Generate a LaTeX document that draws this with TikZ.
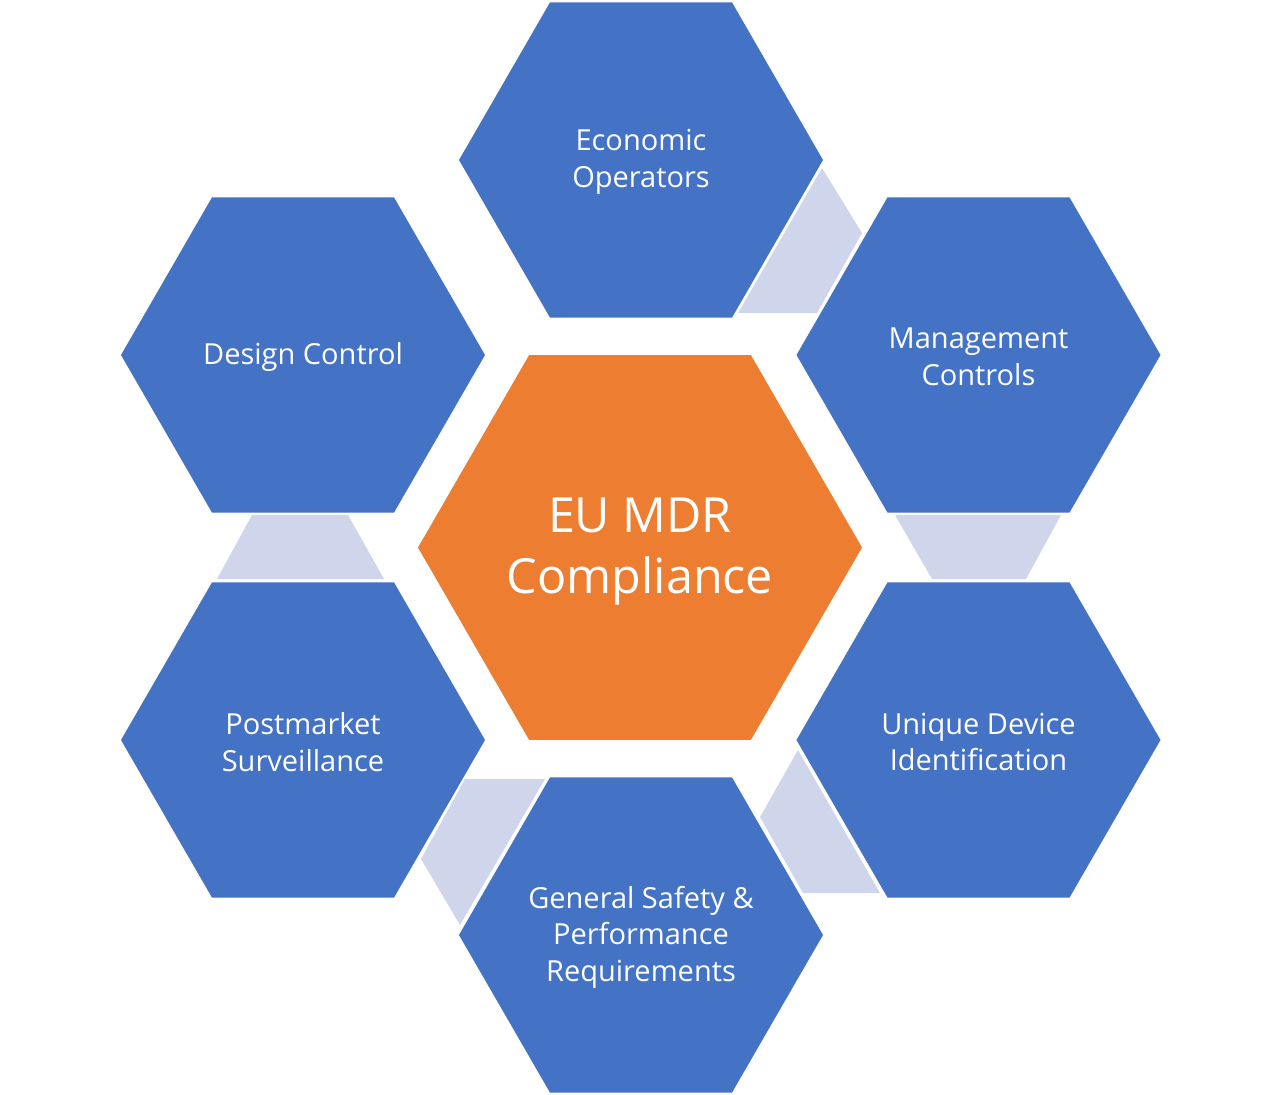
\documentclass[tikz,border=0pt]{standalone}
\usepackage{fontspec}
\setmainfont{Open Sans}
\usetikzlibrary{shapes.geometric}
\definecolor{hexblue}{HTML}{4472C4}
\definecolor{hexorange}{HTML}{ED7D31}
\definecolor{linkgray}{HTML}{CFD5EA}
\tikzset{
  hexb/.style={regular polygon, regular polygon sides=6, minimum size=364pt, inner sep=0pt, outer sep=0pt, fill=hexblue, draw=none},
  hexo/.style={regular polygon, regular polygon sides=6, minimum size=444pt, inner sep=0pt, outer sep=0pt, fill=hexorange, draw=none},
  btxt/.style={text=white, align=center, font=\fontsize{29}{36.5}\selectfont, inner sep=0pt, yshift=-2pt},
  otxt/.style={text=white, align=center, font=\fontsize{48.5}{61}\selectfont, inner sep=0pt, yshift=-4pt},
  link/.style={fill=linkgray, draw=none}
}
\begin{document}
\begin{tikzpicture}[x=1pt,y=-1pt]
\useasboundingbox (0,0) rectangle (1280,1095);
% connectors
\coordinate (a1) at (822,168); \coordinate (a2) at (862,233); \coordinate (a3) at (817,313); \coordinate (a4) at (738,313);
\fill[link] (a1) -- (a2) -- (a3) -- (a4) -- cycle;
\coordinate (b1) at (895,515); \coordinate (b2) at (1061,515); \coordinate (b3) at (1026,579); \coordinate (b4) at (932,579);
\fill[link] (b1) -- (b2) -- (b3) -- (b4) -- cycle;
\coordinate (c1) at (252,515); \coordinate (c2) at (348,515); \coordinate (c3) at (384,579); \coordinate (c4) at (217,579);
\fill[link] (c1) -- (c2) -- (c3) -- (c4) -- cycle;
\coordinate (d1) at (798,750); \coordinate (d2) at (760,817); \coordinate (d3) at (803,893); \coordinate (d4) at (880,893);
\fill[link] (d1) -- (d2) -- (d3) -- (d4) -- cycle;
\coordinate (e1) at (465,779); \coordinate (e2) at (545,779); \coordinate (e3) at (460,925); \coordinate (e4) at (421,859);
\fill[link] (e1) -- (e2) -- (e3) -- (e4) -- cycle;
% hexagons
\node[hexo] (mdr) at (640,547.5) {};
\node[hexb] (eo) at (641,160) {};
\node[hexb] (dc) at (303,355) {};
\node[hexb] (mc) at (978.5,355) {};
\node[hexb] (ps) at (303,740) {};
\node[hexb] (udi) at (978.5,740) {};
\node[hexb] (gs) at (641,935) {};
% texts
\node[otxt] (tmdr) at (mdr) {EU MDR\\Compliance};
\node[btxt] (teo) at (eo) {Economic\\Operators};
\node[btxt] (tdc) at (dc) {Design Control};
\node[btxt] (tmc) at (mc) {Management\\Controls};
\node[btxt] (tps) at (ps) {Postmarket\\Surveillance};
\node[btxt] (tudi) at (udi) {Unique Device\\Identification};
\node[btxt] (tgs) at (gs) {General Safety \&\\Performance\\Requirements};
\end{tikzpicture}
\end{document}
